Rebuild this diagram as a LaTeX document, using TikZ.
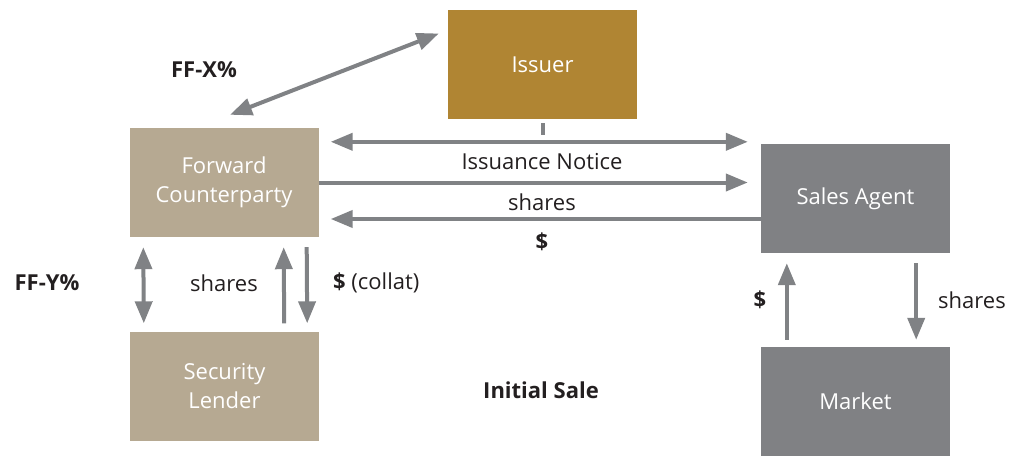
\documentclass[tikz,border=0pt]{standalone}
\usepackage{fontspec}
\setmainfont{Open Sans}
\usetikzlibrary{arrows.meta,calc}

\definecolor{issuergold}{RGB}{176,133,51}
\definecolor{lendertan}{RGB}{182,169,146}
\definecolor{agentgray}{RGB}{128,129,132}
\definecolor{flowgray}{RGB}{128,130,133}
\definecolor{labelink}{RGB}{35,31,32}

\begin{document}
\begin{tikzpicture}[x=1pt, y=-1pt,
  >={Triangle[length=22pt,width=17pt]},
  party/.style={minimum width=189pt, minimum height=109pt, inner sep=0pt,
    text=white, align=center, font=\fontsize{22}{29}\selectfont},
  flow/.style={draw=flowgray, line width=4pt},
  lab/.style={text=labelink, inner sep=0pt, font=\fontsize{22}{26}\selectfont},
  blab/.style={lab, font=\fontsize{22}{26}\selectfont\bfseries}]

\useasboundingbox (0,0) rectangle (1011,455);

%% ── Parties (centres in px, y pointing down) ─────────────────────────────────
\node[party, fill=issuergold] (issuer) at (542.5, 64.5)  {Issuer};
\node[party, fill=lendertan]  (fwd)    at (224.0,182.5)  {Forward\\Counterparty};
\node[party, fill=agentgray]  (agent)  at (855.5,198.5)  {Sales Agent};
\node[party, fill=lendertan]  (lender) at (224.5,386.0)  {Security\\Lender};
\node[party, fill=agentgray]  (market) at (855.5,401.5)  {Market};

%% ── Issuer stub ──────────────────────────────────────────────────────────────
\draw[flow] ([yshift=-4pt]issuer.south) -- ++(0,12);

%% ── Forward counterparty <-> sales agent ─────────────────────────────────────
\draw[flow, <->] ($(fwd.north east)+(12,14)$) -- ($(agent.north west)+(-13,-2)$);
\draw[flow, ->]  (fwd.east) -- ($(agent.west |- fwd.east)+(-13,0)$);
\draw[flow, ->]  ($(agent.west)+(0,20.5)$) -- ($(fwd.east |- agent.west)+(12,20.5)$);

\node[lab]  (notice)    at (542,162) {Issuance Notice};
\node[lab]  (sharesfwd) at (542,202) {shares};
\node[blab] (cashfwd)   at (542,242) {\$};

%% ── Forward counterparty <-> issuer ──────────────────────────────────────────
\draw[flow, <->] ($(fwd.north)+(6,-13)$) -- ($(issuer.west)+(-9,-31)$);
\node[blab] (ffx) at (204,70) {FF-X\%};

%% ── Forward counterparty <-> security lender ─────────────────────────────────
\draw[flow, <->] ($(fwd.south west)+(14,10)$) -- ($(lender.north west)+(14,-8)$);
\draw[flow, ->]  ($(lender.north east)+(-35,-8)$) -- ($(fwd.south east)+(-35,10)$);
\draw[flow, ->]  ($(fwd.south east)+(-12,10)$) -- ($(lender.north east)+(-12,-8)$);

\node[blab] (ffy)       at (47,283)  {FF-Y\%};
\node[lab]  (shareslnd) at (224,283) {shares};
\node[lab, anchor=west] (collat) at (333,283) {\textbf{\$} (collat)};

%% ── Sales agent <-> market ───────────────────────────────────────────────────
\draw[flow, ->] ($(market.north west)+(26,-7)$) -- ($(agent.south west)+(26,10)$);
\draw[flow, ->] ($(agent.south east)+(-34,10)$) -- ($(market.north east)+(-34,-7)$);

\node[blab] (cashmkt) at (760,300) {\$};
\node[lab, anchor=west] (sharesmkt) at (938,300) {shares};

%% ── Caption ──────────────────────────────────────────────────────────────────
\node[blab] (initial) at (541,390) {Initial Sale};

\end{tikzpicture}
\end{document}
